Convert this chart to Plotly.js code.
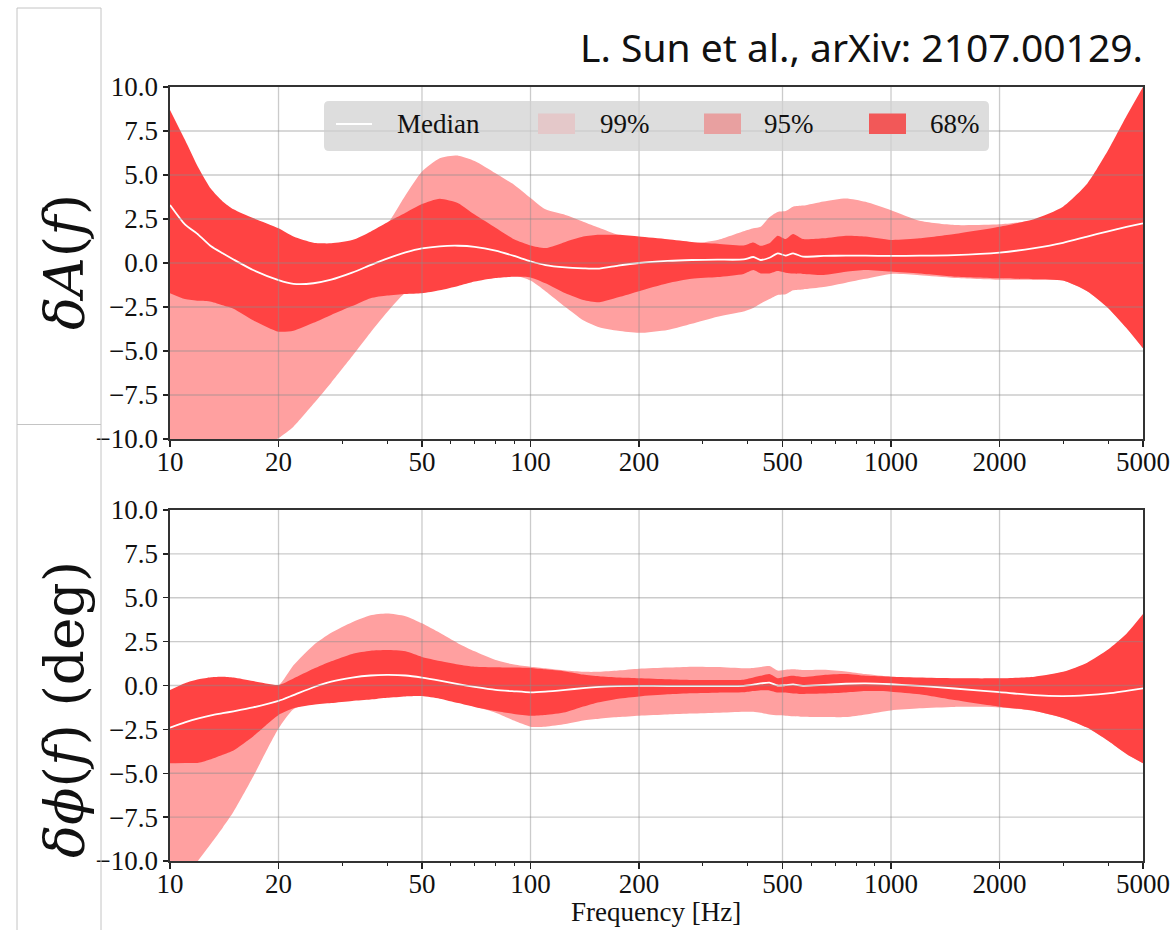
<!DOCTYPE html>
<html>
<head>
<meta charset="utf-8">
<script src="https://cdn.plot.ly/plotly-3.0.1.min.js"></script>
<style>
  html, body { margin: 0; padding: 0; background: #ffffff; }
  #chart { width: 1176px; height: 930px; }
</style>
</head>
<body>
<div id="chart"></div>
<script>
// Frequency grid (Hz) shared by both panels
const freq = [10, 11, 12, 13, 14, 15, 17, 20, 22, 25, 28, 32, 36, 40, 45, 50, 56, 63, 70, 80, 90, 100,
  110, 125, 140, 155, 175, 200, 240, 280, 330, 390, 415, 435, 460, 485, 510, 535, 570, 650,
  750, 850, 1000, 1200, 1500, 2000, 2500, 3000, 3500, 4000, 4500, 5000];

// Amplitude correction dA(f)
const ampMedian = [3.3, 2.2, 1.6, 0.95, 0.55, 0.2, -0.4, -0.97, -1.18, -1.15, -0.95, -0.55, -0.12, 0.25, 0.6, 0.83,
  0.95, 0.98, 0.92, 0.7, 0.4, 0.1, -0.12, -0.25, -0.3, -0.32, -0.15, 0.0, 0.12, 0.17, 0.19, 0.2, 0.34, 0.17,
  0.3, 0.55, 0.42, 0.55, 0.36, 0.4, 0.42, 0.42, 0.4, 0.42, 0.45, 0.59, 0.85, 1.15, 1.5, 1.8, 2.05, 2.25];
const amp68Hi = [8.7, 7.0, 5.4, 4.2, 3.5, 3.05, 2.55, 1.97, 1.5, 1.15, 1.12, 1.3, 1.78, 2.3, 2.85, 3.35,
  3.65, 3.4, 2.75, 2.0, 1.35, 1.0, 0.85, 1.2, 1.5, 1.6, 1.6, 1.5, 1.35, 1.2, 1.1, 1.0, 1.17, 0.98,
  1.12, 1.55, 1.36, 1.65, 1.36, 1.4, 1.55, 1.5, 1.31, 1.4, 1.65, 2.06, 2.5, 3.2, 4.5, 6.4, 8.35, 10.0];
const amp68Lo = [-1.72, -2.05, -2.15, -2.2, -2.4, -2.6, -3.25, -3.9, -3.85, -3.4, -2.95, -2.45, -2.0, -1.85, -1.76, -1.72,
  -1.55, -1.3, -1.05, -0.85, -0.78, -0.82, -1.15, -1.72, -2.1, -2.23, -1.95, -1.6, -1.15, -0.9, -0.8, -0.62, -0.4, -0.59,
  -0.59, -0.45, -0.55, -0.6, -0.62, -0.68, -0.5, -0.4, -0.49, -0.6, -0.78, -0.87, -0.92, -1.0, -1.6, -2.55, -3.7, -4.85];
const amp95Hi = [5.0, 4.0, 3.5, 3.0, 2.5, 2.2, 1.8, 1.3, 1.0, 0.8, 0.8, 1.0, 1.5, 2.2, 3.85, 5.2,
  5.95, 6.1, 5.8, 5.1, 4.45, 3.7, 3.05, 2.73, 2.35, 2.0, 1.6, 1.4, 1.25, 1.1, 1.3, 1.8, 1.97, 2.06,
  2.6, 2.9, 2.95, 3.2, 3.26, 3.5, 3.67, 3.48, 3.0, 2.4, 2.16, 2.2, 2.45, 3.1, 4.4, 6.3, 8.25, 9.9];
const amp95Lo = [-13, -12.8, -12.5, -12.2, -11.8, -11.4, -10.7, -9.95, -9.3, -8.0, -6.8, -5.3, -3.95, -2.8, -1.7, -1.6,
  -1.45, -1.2, -0.95, -0.75, -0.7, -1.0, -1.6, -2.5, -3.25, -3.65, -3.85, -3.97, -3.8, -3.45, -3.05, -2.75, -2.55, -2.3,
  -2.05, -1.82, -1.78, -1.55, -1.5, -1.37, -1.12, -0.9, -0.62, -0.7, -0.85, -0.95, -0.95, -1.0, -1.6, -2.55, -3.7, -4.85];

// Phase correction dphi(f) in degrees
const phaseMedian = [-2.4, -2.1, -1.87, -1.7, -1.58, -1.47, -1.25, -0.88, -0.55, -0.1, 0.22, 0.45, 0.57, 0.6, 0.57, 0.45,
  0.28, 0.08, -0.08, -0.25, -0.33, -0.39, -0.35, -0.25, -0.15, -0.08, -0.03, -0.02, -0.03, -0.03, -0.03, -0.02, 0.05, 0.12,
  0.16, 0.0, 0.02, 0.06, -0.02, 0.03, 0.1, 0.12, 0.07, -0.02, -0.17, -0.38, -0.55, -0.6, -0.55, -0.45, -0.3, -0.16];
const phase68Hi = [-0.26, 0.13, 0.35, 0.47, 0.5, 0.45, 0.25, 0.03, 0.4, 0.95, 1.38, 1.8, 1.98, 2.02, 1.95, 1.63,
  1.4, 1.2, 1.07, 1.04, 1.02, 1.0, 0.92, 0.8, 0.62, 0.52, 0.45, 0.41, 0.35, 0.31, 0.31, 0.33, 0.45, 0.55,
  0.66, 0.42, 0.5, 0.55, 0.48, 0.6, 0.65, 0.55, 0.5, 0.45, 0.41, 0.41, 0.5, 0.78, 1.3, 2.05, 2.95, 4.07];
const phase68Lo = [-4.43, -4.42, -4.4, -4.2, -3.95, -3.7, -2.9, -1.68, -1.3, -1.1, -1.0, -0.88, -0.8, -0.7, -0.62, -0.6,
  -0.75, -1.0, -1.22, -1.45, -1.62, -1.72, -1.68, -1.52, -1.2, -0.95, -0.75, -0.62, -0.5, -0.44, -0.41, -0.39, -0.32, -0.27,
  -0.28, -0.4, -0.4, -0.45, -0.48, -0.46, -0.4, -0.32, -0.35, -0.5, -0.83, -1.21, -1.45, -1.85, -2.4, -3.15, -3.9, -4.43];
const phase95Hi = [-1.0, -0.8, -0.6, -0.5, -0.45, -0.4, -0.3, 0.0, 1.15, 2.3, 3.0, 3.6, 4.0, 4.1, 3.95, 3.54,
  3.0, 2.4, 1.95, 1.45, 1.2, 1.07, 0.98, 0.85, 0.78, 0.78, 0.85, 0.95, 1.02, 1.07, 1.05, 0.98, 1.0, 1.05,
  1.11, 0.85, 0.9, 0.92, 0.88, 0.9, 0.8, 0.65, 0.5, 0.43, 0.38, 0.38, 0.47, 0.75, 1.25, 2.0, 2.9, 4.0];
const phase95Lo = [-12, -11, -9.95, -9.0, -8.1, -7.2, -5.2, -2.45, -1.35, -1.0, -0.9, -0.8, -0.7, -0.6, -0.55, -0.55,
  -0.7, -0.95, -1.2, -1.55, -2.0, -2.35, -2.35, -2.2, -2.0, -1.9, -1.8, -1.72, -1.65, -1.6, -1.55, -1.49, -1.5, -1.55,
  -1.65, -1.7, -1.72, -1.75, -1.78, -1.8, -1.8, -1.65, -1.42, -1.3, -1.22, -1.25, -1.45, -1.85, -2.4, -3.15, -3.9, -4.43];

// Axis ticks
const freqTicks = [10, 20, 50, 100, 200, 500, 1000, 2000, 5000];
const freqMinorTicks = [30, 40, 60, 70, 80, 90, 300, 400, 600, 700, 800, 900, 3000, 4000];
const yTicks = [-10, -7.5, -5, -2.5, 0, 2.5, 5, 7.5, 10];

// Legend entries
const legendLabels = ['Median', '99%', '95%', '68%'];

const COL95 = '#ffa0a0';
const COL68 = '#ff4343';
const SERIF = '"Liberation Serif", "DejaVu Serif", serif';
const MATH = '"DejaVu Serif", "Liberation Serif", serif';

// Figure geometry (px) used to place paper-referenced decorations
const W = 1176, H = 930;
const M = { l: 170, r: 33, t: 87, b: 69 };
const plotW = W - M.l - M.r, plotH = H - M.t - M.b;
const px2x = px => (px - M.l) / plotW;
const px2y = py => (H - M.b - py) / plotH;

function bandTraces(lo, hi, color, xa, ya) {
  const base = { x: freq, mode: 'lines', xaxis: xa, yaxis: ya, showlegend: false,
                 hoverinfo: 'skip', line: { width: 0, shape: 'spline', smoothing: 0.6 } };
  return [
    Object.assign({}, base, { y: lo, fill: 'none' }),
    Object.assign({}, base, { y: hi, fill: 'tonexty', fillcolor: color })
  ];
}
function medianTrace(y, xa, ya) {
  return { x: freq, y: y, mode: 'lines', xaxis: xa, yaxis: ya, showlegend: false, hoverinfo: 'skip',
           line: { color: '#ffffff', width: 1.8, shape: 'spline', smoothing: 0.6 } };
}

const traces = [].concat(
  bandTraces(amp95Lo, amp95Hi, COL95, 'x', 'y'),
  bandTraces(amp68Lo, amp68Hi, COL68, 'x', 'y'),
  [medianTrace(ampMedian, 'x', 'y')],
  bandTraces(phase95Lo, phase95Hi, COL95, 'x2', 'y2'),
  bandTraces(phase68Lo, phase68Hi, COL68, 'x2', 'y2'),
  [medianTrace(phaseMedian, 'x2', 'y2')]
);

const tickFont = { family: SERIF, size: 27, color: '#111111' };
const xBase = {
  type: 'log', range: [Math.log10(freq[0]), Math.log10(freq[freq.length - 1])],
  tickmode: 'array', tickvals: freqTicks, ticktext: freqTicks.map(String),
  ticks: 'outside', ticklen: 6, tickwidth: 1.3, tickcolor: '#222222', ticklabelstandoff: -8,
  minor: { tickmode: 'array', tickvals: freqMinorTicks, ticks: 'outside', ticklen: 3.5, tickwidth: 1, tickcolor: '#222222', showgrid: false },
  showgrid: false, zeroline: false, showline: true, mirror: true, linecolor: '#333333', linewidth: 1.6,
  tickfont: tickFont, fixedrange: true
};
const yBase = {
  range: [-10, 10], tickmode: 'array', tickvals: yTicks, tickformat: '.1f',
  ticks: 'outside', ticklen: 5, tickwidth: 1.3, tickcolor: '#222222',
  showgrid: false, zeroline: false, showline: true, mirror: true, linecolor: '#333333', linewidth: 1.6,
  tickfont: tickFont, fixedrange: true
};
const topDomain = [px2y(439), 1];
const botDomain = [0, px2y(510)];

const shapes = [];
// grid lines drawn over the bands
const gridLine = { color: 'rgba(140,140,140,0.45)', width: 1.3 };
[['x', 'y'], ['x2', 'y2']].forEach(([xa, ya]) => {
  freqTicks.slice(1, -1).forEach(f => shapes.push({ type: 'line', layer: 'above', xref: xa, yref: ya + ' domain',
    x0: f, x1: f, y0: 0, y1: 1, line: gridLine }));
  yTicks.slice(1, -1).forEach(v => shapes.push({ type: 'line', layer: 'above', xref: xa + ' domain', yref: ya,
    x0: 0, x1: 1, y0: v, y1: v, line: gridLine }));
});

// light frame around the axis-label column
const frameLine = { color: '#c4c4c4', width: 1 };
[[17, 8, 17, H], [101, 8, 101, H], [17, 8, 101, 8], [17, 424.5, 101, 424.5]].forEach(([a, b, c, d]) =>
  shapes.push({ type: 'line', xref: 'paper', yref: 'paper', x0: px2x(a), y0: px2y(b), x1: px2x(c), y1: px2y(d), line: frameLine }));

// legend box with rounded corners
function roundRectPath(x0, y0, x1, y1, r) {
  const X = px2x, Y = px2y;
  return `M ${X(x0 + r)},${Y(y0)} L ${X(x1 - r)},${Y(y0)} Q ${X(x1)},${Y(y0)} ${X(x1)},${Y(y0 + r)} ` +
         `L ${X(x1)},${Y(y1 - r)} Q ${X(x1)},${Y(y1)} ${X(x1 - r)},${Y(y1)} ` +
         `L ${X(x0 + r)},${Y(y1)} Q ${X(x0)},${Y(y1)} ${X(x0)},${Y(y1 - r)} ` +
         `L ${X(x0)},${Y(y0 + r)} Q ${X(x0)},${Y(y0)} ${X(x0 + r)},${Y(y0)} Z`;
}
shapes.push({ type: 'path', layer: 'above', xref: 'paper', yref: 'paper', path: roundRectPath(324, 101, 989, 151, 5),
  fillcolor: 'rgba(208,208,208,0.72)', line: { width: 0 } });
const legY = 124;
shapes.push({ type: 'line', layer: 'above', xref: 'paper', yref: 'paper', x0: px2x(336), x1: px2x(372),
  y0: px2y(legY), y1: px2y(legY), line: { color: '#ffffff', width: 2 } });
const swatches = [[538, '#e4c8c9'], [704, '#e8a0a0'], [869, '#f25858']];
swatches.forEach(([x, c]) => shapes.push({ type: 'rect', layer: 'above', xref: 'paper', yref: 'paper',
  x0: px2x(x), x1: px2x(x + 37), y0: px2y(113.5), y1: px2y(134), fillcolor: c, line: { width: 0 } }));

const annotations = [];
const legTextX = [395, 598, 762, 928];
legendLabels.forEach((t, i) => annotations.push({ text: t, xref: 'paper', yref: 'paper', x: px2x(legTextX[i]), y: px2y(legY),
  xanchor: 'left', yanchor: 'middle', showarrow: false, font: { family: SERIF, size: 27, color: '#111111' } }));

// axis titles
annotations.push({ text: '<i>δA</i>(<i>f</i>)', xref: 'paper', yref: 'paper', x: px2x(64), y: px2y(262),
  xanchor: 'center', yanchor: 'middle', textangle: -90, showarrow: false, font: { family: MATH, size: 55, color: '#111111' } });
annotations.push({ text: '<i>δϕ</i>(<i>f</i>) (deg)', xref: 'paper', yref: 'paper', x: px2x(64), y: px2y(710),
  xanchor: 'center', yanchor: 'middle', textangle: -90, showarrow: false, font: { family: MATH, size: 55, color: '#111111' } });
annotations.push({ text: 'Frequency [Hz]', xref: 'paper', yref: 'paper', x: px2x(656), y: px2y(912),
  xanchor: 'center', yanchor: 'middle', showarrow: false, font: { family: SERIF, size: 27, color: '#111111' } });

const layout = {
  width: W, height: H,
  margin: M,
  paper_bgcolor: '#ffffff', plot_bgcolor: '#ffffff',
  showlegend: false,
  title: { text: 'L. Sun et al., arXiv: 2107.00129.', xref: 'paper', x: 1, xanchor: 'right',
           yref: 'container', y: 1 - 48 / H, yanchor: 'middle',
           font: { family: '"Noto Sans", "Open Sans", sans-serif', size: 39, color: '#111111' } },
  xaxis: Object.assign({}, xBase, { anchor: 'y', domain: [0, 1] }),
  yaxis: Object.assign({}, yBase, { anchor: 'x', domain: topDomain }),
  xaxis2: Object.assign({}, xBase, { anchor: 'y2', domain: [0, 1] }),
  yaxis2: Object.assign({}, yBase, { anchor: 'x2', domain: botDomain }),
  shapes: shapes,
  annotations: annotations
};

Plotly.newPlot('chart', traces, layout, { displayModeBar: false, staticPlot: true });
</script>
</body>
</html>
